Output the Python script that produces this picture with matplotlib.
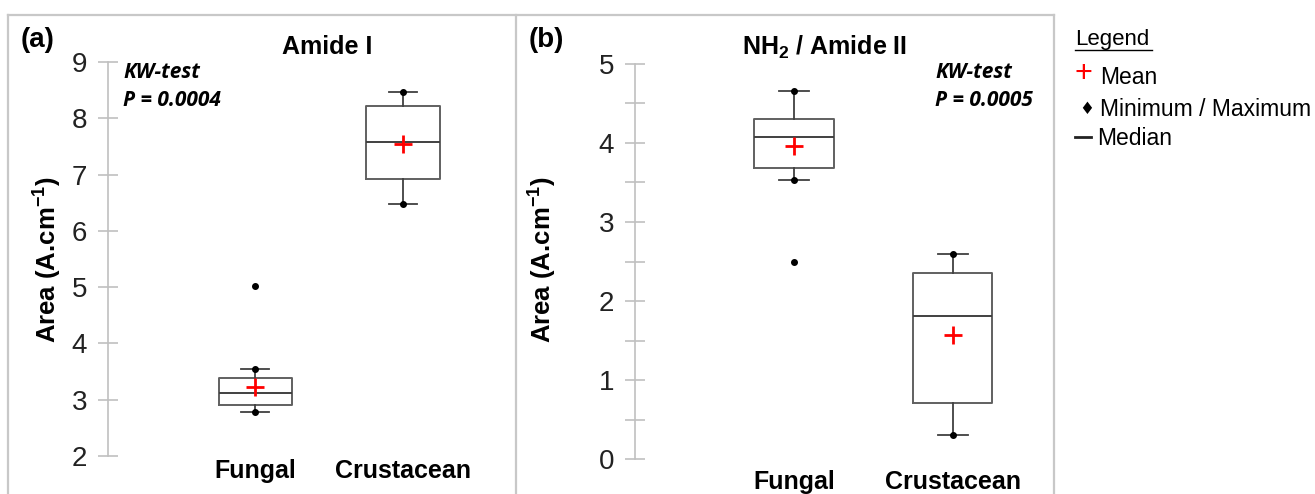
import matplotlib
matplotlib.use('Agg')
import matplotlib.pyplot as plt
from matplotlib.lines import Line2D
from matplotlib.ticker import MultipleLocator

plt.rcParams['font.family'] = ['Liberation Sans', 'DejaVu Sans']
plt.rcParams['mathtext.fontset'] = 'custom'
plt.rcParams['mathtext.rm'] = 'Liberation Sans'
plt.rcParams['mathtext.bf'] = 'Liberation Sans:bold'
plt.rcParams['mathtext.default'] = 'bf'

groups = ['Fungal', 'Crustacean']

# Amide I band area
amide1_min = [2.79, 6.48]
amide1_q1 = [2.91, 6.93]
amide1_med = [3.12, 7.57]
amide1_q3 = [3.39, 8.21]
amide1_max = [3.55, 8.46]
amide1_mean = [3.23, 7.54]
amide1_out = [[5.02], []]

# NH2 / Amide II band area
amide2_min = [3.53, 0.31]
amide2_q1 = [3.68, 0.71]
amide2_med = [4.07, 1.81]
amide2_q3 = [4.30, 2.35]
amide2_max = [4.66, 2.59]
amide2_mean = [3.96, 1.57]
amide2_out = [[2.50], []]

W, H = 1315, 494
fig = plt.figure(figsize=(W / 100, H / 100), dpi=100)


def px(x, y):
    # pixel position -> figure fraction
    return x / W, 1 - y / H


def panel(rect, lo, q1, med, q3, hi, mean, out, ylim, xlim, minor, xpad):
    x0, y0, x1, y1 = rect
    ax = fig.add_axes([x0 / W, 1 - y1 / H, (x1 - x0) / W, (y1 - y0) / H])
    stats = []
    for i in range(len(groups)):
        stats.append(dict(whislo=lo[i], q1=q1[i], med=med[i], q3=q3[i],
                          whishi=hi[i], mean=mean[i], fliers=out[i], label=groups[i]))
    ax.bxp(stats, positions=[1, 2], widths=0.5, capwidths=0.19, showmeans=True,
           boxprops=dict(color='#606060', lw=1.4),
           whiskerprops=dict(color='#404040', lw=1.3),
           capprops=dict(color='#404040', lw=1.3),
           medianprops=dict(color='#404040', lw=1.4),
           meanprops=dict(marker='+', markeredgecolor='red', markersize=13, markeredgewidth=2),
           flierprops=dict(marker='o', markerfacecolor='black', markeredgecolor='black', markersize=4))
    ax.plot([1, 2], lo, 'o', color='black', ms=4, zorder=5)
    ax.plot([1, 2], hi, 'o', color='black', ms=4, zorder=5)

    ax.set_ylim(*ylim)
    ax.set_xlim(*xlim)
    for s in ['top', 'right', 'bottom']:
        ax.spines[s].set_visible(False)
    ax.spines['left'].set_color('#c0c0c0')
    ax.spines['left'].set_linewidth(1.2)
    ax.yaxis.set_major_locator(MultipleLocator(1))
    if minor:
        ax.yaxis.set_minor_locator(MultipleLocator(0.5))
    ax.tick_params(axis='y', which='both', direction='inout', length=14, width=1.2,
                   color='#c0c0c0', labelsize=20, labelcolor='#222222', pad=8)
    ax.tick_params(axis='x', length=0, labelsize=18, pad=xpad)
    ax.set_xticks([1, 2], groups, fontweight='bold')
    return ax


panel((108, 62, 500, 456), amide1_min, amide1_q1, amide1_med, amide1_q3, amide1_max,
      amide1_mean, amide1_out, (2, 9), (0, 2.66), False, 2)
panel((635, 64, 1040, 459), amide2_min, amide2_q1, amide2_med, amide2_q3, amide2_max,
      amide2_mean, amide2_out, (0, 5), (0, 2.55), True, 8)

# panel frames
frame = dict(color='#c8c8c8', lw=1.6, transform=fig.transFigure)
for xs, ys in [([8, 1054], [15, 15]), ([8, 8], [15, 500]),
               ([516, 516], [15, 500]), ([1054, 1054], [15, 500])]:
    fig.add_artist(Line2D([x / W for x in xs], [1 - y / H for y in ys], **frame))

ylab = r'Area (A.cm$^{-1}$)'
fig.text(*px(48, 260), ylab, rotation=90, fontsize=18.5, fontweight='bold',
         ha='center', va='center')
fig.text(*px(543, 260), ylab, rotation=90, fontsize=18.5, fontweight='bold',
         ha='center', va='center')

fig.text(*px(21, 40), '(a)', fontsize=20, fontweight='bold', va='center')
fig.text(*px(529, 40), '(b)', fontsize=20, fontweight='bold', va='center')
fig.text(*px(327, 47), 'Amide I', fontsize=18, fontweight='bold', ha='center', va='center')
fig.text(*px(825, 47), r'NH$_2$ / Amide II', fontsize=18, fontweight='bold',
         ha='center', va='center')

kw = dict(fontsize=15, fontweight='bold', style='italic', family=['Open Sans', 'DejaVu Sans'],
          va='center')
fig.text(*px(123, 72), 'KW-test', **kw)
fig.text(*px(123, 100), 'P = 0.0004', **kw)
fig.text(*px(935, 72), 'KW-test', **kw)
fig.text(*px(935, 100), 'P = 0.0005', **kw)

# legend block
fig.text(*px(1075, 39), 'Legend', fontsize=16, va='center')
fig.add_artist(Line2D([1075 / W, 1152 / W], [1 - 50 / H, 1 - 50 / H],
                      color='black', lw=1, transform=fig.transFigure))
fig.text(*px(1083, 74), '+', fontsize=22, color='red', ha='center', va='center')
fig.text(*px(1100, 77), 'Mean', fontsize=16.5, va='center')
fig.text(*px(1087, 109), '\u2666', fontsize=12, ha='center', va='center',
         family=['DejaVu Sans'])
fig.text(*px(1100, 109), 'Minimum / Maximum', fontsize=16.5, va='center')
fig.add_artist(Line2D([1075 / W, 1091 / W], [1 - 137 / H, 1 - 137 / H],
                      color='#222222', lw=2, transform=fig.transFigure))
fig.text(*px(1097, 138), 'Median', fontsize=16.5, va='center')

fig.savefig('out.png', dpi=100)
